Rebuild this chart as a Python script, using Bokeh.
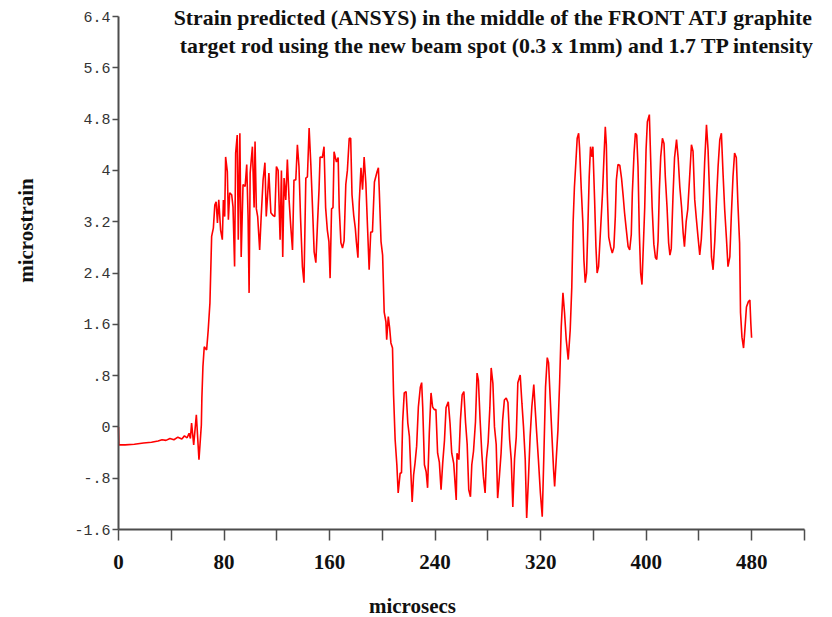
from bokeh.plotting import figure
from bokeh.models import Range1d, FixedTicker, Label
from bokeh.embed import file_html
from bokeh.resources import INLINE
import math

# ---- data ----
time_us = [
    0, 0.3, 5, 12, 19, 25, 30, 33, 36, 39, 42, 45, 48, 50, 52, 53.5, 54.5, 55.4, 57, 59,
    61, 62.8, 63.2, 64, 65, 66.8, 68, 69.3, 70.6, 71.9, 73, 74, 75, 76, 77.4, 78.7, 79.5, 80.5, 81.2, 82.5,
    83.3, 84.3, 85.8, 86.8, 88, 88.8, 90, 90.8, 92, 93, 94.4, 96, 97.2, 98.2, 99, 99.8, 101.5, 102.8, 103.5, 104.5,
    105.5, 107, 108.2, 109.6, 111, 112, 113, 114, 115.5, 117, 118.5, 119.7, 121, 122.5, 123.5, 124.5, 125.5, 126.8, 128, 129.3,
    130.6, 131.9, 133, 134.4, 135.6, 136.8, 138, 139.4, 140.6, 142, 143.2, 144.5, 145.8, 147, 148.3, 149.6, 150.8, 152, 152.8, 154.5,
    155.8, 157, 158.3, 159.5, 160.4, 161.5, 162.6, 163.4, 165.2, 166.5, 167.3, 168.6, 169.8, 171, 172.3, 173.5, 174.9, 176, 177, 178.3,
    179.5, 180.3, 181.5, 182.5, 183.8, 185, 186.2, 187.5, 188.8, 190, 191.2, 192.5, 194, 196, 197, 197.7, 199, 200.2, 201.4, 202.7,
    203.3, 204.5, 205.5, 206.5, 207.7, 208.5, 209.7, 211, 212, 213.5, 214.5, 215.4, 216.6, 218, 219.3, 220.5, 221.7, 222.6, 223.7, 224.8,
    226, 227.3, 228.8, 229.8, 230.6, 231.9, 233.2, 234.3, 235.6, 236.9, 238.1, 239.4, 240.6, 241.9, 243.2, 244.5, 245.8, 247.1, 248.3, 250,
    251.3, 252.6, 254.1, 256, 256.6, 258, 259.2, 260.5, 261.8, 263.1, 264.3, 265.5, 266.8, 267.8, 269.1, 270.6, 271.8, 272.8, 274.1, 275.4,
    276.6, 277.9, 278.9, 280.2, 281.5, 282.5, 283.8, 285, 286.3, 287.4, 288.7, 290, 291.2, 292.5, 293.9, 295.2, 296.5, 297.7, 298.9, 300.2,
    301.5, 302.7, 304.5, 305.8, 307, 308.3, 309.4, 310.7, 312, 313.3, 314.8, 315.8, 317, 318.3, 319.8, 321.2, 322.4, 323.7, 325, 326,
    327.3, 328.6, 329.8, 330.6, 331.9, 333.1, 334.4, 335.6, 336.9, 338.1, 339.4, 340.9, 342.4, 343.6, 344.6, 345.6, 346.7, 347.7, 348.8, 349.5,
    350.8, 352, 352.8, 353.8, 354.8, 355.8, 356.8, 357.8, 358.9, 359.6, 360.9, 361.9, 362.8, 363.9, 365.4, 366.9, 368, 369, 369.8, 370.5,
    371.6, 373, 374.3, 375.5, 376.6, 377.4, 378.6, 380, 381.3, 382.6, 383.6, 384.8, 386.3, 387.5, 388.7, 389.5, 390.8, 391.8, 392.8, 393.8,
    394.8, 395.8, 396.8, 397.8, 398.9, 399.9, 400.9, 402.4, 403.4, 404.5, 405.8, 407, 408, 409, 410, 411, 412.3, 413.5, 414.5, 415.8,
    417, 418, 419, 420.3, 421.5, 423, 424.2, 425.5, 426.8, 428, 429, 430.3, 431.5, 432.8, 434.3, 435.5, 436.8, 438, 439.3, 440.6,
    441.8, 443, 444.3, 445.7, 446.9, 448.2, 449.5, 450.7, 452, 453.3, 454.5, 455.8, 457, 458.3, 459.5, 460.8, 462, 463.4, 464.5, 465.8,
    467, 468.3, 469.5, 470.8, 471.5, 472.6, 473.8, 474.8, 476, 477.4, 478.6, 479.3, 479.9,
]
microstrain = [
    0.0, -0.28, -0.28, -0.27, -0.25, -0.24, -0.22, -0.2, -0.21, -0.18, -0.2, -0.16, -0.19, -0.14, -0.17, -0.1, -0.18, 0.06, -0.28, 0.19,
    -0.51, 0.03, 0.45, 0.94, 1.25, 1.2, 1.51, 1.93, 2.97, 3.1, 3.46, 3.51, 3.18, 3.54, 3.07, 2.92, 3.54, 3.28, 4.21, 3.98,
    3.23, 3.65, 3.62, 3.43, 2.5, 4.27, 4.55, 2.92, 4.58, 2.65, 3.78, 3.75, 4.09, 3.3, 2.09, 3.96, 4.37, 3.42, 4.45, 3.4,
    3.28, 2.76, 3.3, 3.85, 4.12, 3.28, 3.6, 3.96, 3.34, 3.3, 3.28, 4.06, 4.0, 2.92, 4.0, 2.65, 3.88, 3.54, 4.17, 3.54,
    3.12, 2.76, 3.85, 3.85, 4.4, 4.06, 3.26, 2.5, 2.25, 3.88, 3.9, 4.66, 4.09, 3.46, 2.73, 2.56, 3.15, 3.7, 4.21, 4.2,
    4.37, 3.42, 3.07, 2.89, 2.32, 3.4, 3.42, 4.29, 4.13, 4.2, 3.42, 2.87, 2.79, 2.9, 3.78, 4.0, 4.5, 4.5, 3.62, 3.3,
    3.1, 2.89, 2.64, 3.51, 4.04, 3.7, 4.21, 3.8, 3.1, 2.45, 3.04, 3.04, 3.82, 3.98, 4.04, 3.67, 2.89, 2.68, 1.79, 1.64,
    1.36, 1.72, 1.55, 1.31, 1.23, 0.5, -0.2, -0.59, -1.03, -0.72, -0.72, 0.08, 0.53, 0.55, 0.06, -0.15, -0.75, -1.17, -0.75, -0.56,
    -0.3, 0.31, 0.62, 0.69, 0.31, -0.59, -0.7, -0.95, -0.09, 0.53, 0.31, 0.27, 0.27, -0.41, -0.55, -0.98, -0.55, -0.21, 0.3, 0.39,
    0.06, -0.41, -0.57, -1.14, -0.41, -0.51, 0.11, 0.5, 0.55, 0.06, -0.27, -0.98, -1.09, -0.59, -0.38, 0.08, 0.84, 0.73, 0.11, -0.41,
    -0.78, -1.03, -0.5, -0.24, 0.3, 0.92, 0.68, 0.0, -0.27, -1.11, -0.78, -0.41, 0.11, 0.42, 0.45, 0.38, -0.2, -0.51, -1.25, -0.5,
    -0.16, 0.69, 0.81, 0.37, 0.0, -0.5, -1.42, -0.83, -0.16, 0.31, 0.66, 0.3, -0.1, -0.51, -1.03, -1.4, -0.47, 0.62, 1.08, 1.0,
    0.42, -0.16, -0.67, -0.93, -0.47, -0.05, 0.7, 1.56, 2.09, 1.78, 1.36, 1.05, 1.51, 2.18, 3.18, 3.74, 4.13, 4.5, 4.58, 4.35,
    3.7, 3.18, 2.6, 2.25, 2.4, 3.12, 3.9, 4.37, 4.21, 4.37, 3.54, 2.81, 2.4, 2.5, 3.07, 3.65, 4.21, 4.68, 4.4, 3.65,
    2.96, 2.81, 2.71, 2.8, 3.28, 3.85, 4.09, 4.08, 3.88, 3.59, 3.34, 3.1, 2.81, 2.76, 3.0, 3.65, 4.27, 4.58, 4.55, 4.06,
    3.03, 2.4, 2.22, 2.8, 3.43, 4.32, 4.76, 4.87, 4.17, 3.43, 2.85, 2.64, 2.61, 2.9, 3.7, 4.21, 4.5, 4.42, 3.9, 3.43,
    2.87, 2.68, 2.78, 3.59, 4.2, 4.48, 4.2, 3.74, 3.43, 3.03, 2.81, 3.2, 3.39, 3.85, 4.4, 4.3, 3.54, 3.25, 2.96, 2.68,
    2.93, 3.39, 4.12, 4.71, 4.32, 3.54, 2.65, 2.45, 2.9, 3.54, 4.06, 4.48, 4.58, 3.93, 3.39, 2.95, 2.5, 2.65, 3.28, 3.9,
    4.27, 4.2, 3.49, 2.87, 1.78, 1.4, 1.23, 1.51, 1.87, 1.95, 1.98, 1.62, 1.39,
]

x_ticks = [0, 40, 80, 120, 160, 200, 240, 280, 320, 360, 400, 440, 480, 520]
x_tick_labels = ["0", "", "80", "", "160", "", "240", "", "320", "", "400", "", "480", ""]
y_ticks = [-1.6, -0.8, 0, 0.8, 1.6, 2.4, 3.2, 4.0, 4.8, 5.6, 6.4]
y_tick_labels = ["-1.6", "-.8", "0", ".8", "1.6", "2.4", "3.2", "4", "4.8", "5.6", "6.4"]

title_lines = [
    "Strain predicted (ANSYS) in the middle of the FRONT ATJ graphite",
    "target rod using the new beam spot (0.3 x 1mm) and 1.7 TP intensity",
]
x_title = "microsecs"
y_title = "microstrain"

# ---- layout: the frame fills the canvas; axes are pinned at the data origin ----
W, H = 832, 617
L, R, T, B = 118, 804, 16, 529          # pixel box of the drawn axes
x0, x1 = x_ticks[0], x_ticks[-1]
y0, y1 = y_ticks[0], y_ticks[-1]
sx = (R - L) / (x1 - x0)
sy = (B - T) / (y1 - y0)
xr = Range1d(x0 - L / sx, x1 + (W - R) / sx)
yr = Range1d(y0 - (H - B) / sy, y1 + T / sy)

p = figure(width=W, height=H, output_backend="svg", toolbar_location=None,
           x_range=xr, y_range=yr,
           min_border_left=0, min_border_right=0, min_border_top=0, min_border_bottom=0)
p.title.visible = False
p.outline_line_color = None
p.xgrid.visible = False
p.ygrid.visible = False
p.background_fill_color = "white"
p.border_fill_color = "white"

axis_col = "#4d4d4d"

xa = p.xaxis[0]
xa.fixed_location = y0
xa.bounds = (x0, x1)
xa.ticker = FixedTicker(ticks=x_ticks)
xa.major_label_overrides = {t: l for t, l in zip(x_ticks, x_tick_labels)}
xa.minor_tick_line_color = None
xa.major_tick_out = 11
xa.major_tick_in = 0
xa.axis_line_color = axis_col
xa.axis_line_width = 2
xa.major_tick_line_color = axis_col
xa.major_tick_line_width = 1.5
xa.major_label_text_font = "Liberation Serif"
xa.major_label_text_font_style = "bold"
xa.major_label_text_font_size = "21px"
xa.major_label_text_color = "#111111"
xa.major_label_standoff = 14

ya = p.yaxis[0]
ya.fixed_location = x0
ya.bounds = (y0, y1)
ya.ticker = FixedTicker(ticks=y_ticks)
ya.major_label_overrides = {t: l for t, l in zip(y_ticks, y_tick_labels)}
ya.minor_tick_line_color = None
ya.major_tick_out = 6
ya.major_tick_in = 0
ya.axis_line_color = axis_col
ya.axis_line_width = 2
ya.major_tick_line_color = axis_col
ya.major_tick_line_width = 1.5
ya.major_label_text_font = "Liberation Mono"
ya.major_label_text_font_size = "15px"
ya.major_label_text_color = "#333333"
ya.major_label_standoff = 2

p.line(time_us, microstrain, line_color="#ff0000", line_width=1.6)

def px_to_x(px):
    return x0 + (px - L) / sx

def py_to_y(py):
    return y0 + (B - py) / sy

serif = dict(text_font="Liberation Serif", text_font_style="bold", text_color="#111111")
p.add_layout(Label(x=px_to_x(813), y=py_to_y(17), text=title_lines[0], text_align="right",
                   text_baseline="middle", text_font_size="21.8px", **serif))
p.add_layout(Label(x=px_to_x(814), y=py_to_y(45), text=title_lines[1], text_align="right",
                   text_baseline="middle", text_font_size="21.8px", **serif))
p.add_layout(Label(x=px_to_x(412), y=py_to_y(605), text=x_title, text_align="center",
                   text_baseline="middle", text_font_size="21px", **serif))
p.add_layout(Label(x=px_to_x(25), y=py_to_y(230), text=y_title, text_align="center",
                   text_baseline="middle", angle=math.pi / 2, text_font_size="21px", **serif))

open("out.html", "w").write(file_html(p, INLINE))
